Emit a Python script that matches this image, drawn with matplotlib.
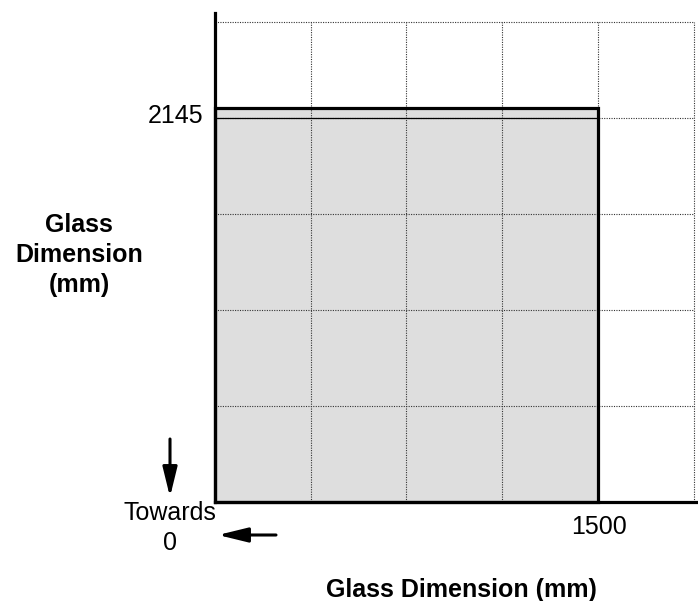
import matplotlib
matplotlib.use("Agg")
import matplotlib.pyplot as plt
from matplotlib.patches import Rectangle, FancyArrowPatch

plt.rcParams['font.family'] = ['Liberation Sans', 'DejaVu Sans']

# Data
glass_width = 1500      # mm (horizontal)
glass_height = 2145     # mm (vertical)
x_tick_labels = ["1500"]
y_tick_labels = ["2145"]
x_label = "Glass Dimension (mm)"
y_label = "Glass\nDimension\n(mm)"
towards_label = "Towards\n0"

W, H = 698, 601
fig = plt.figure(figsize=(W / 100, H / 100), dpi=100)
ax = fig.add_axes([215 / W, (H - 502) / H, (W - 215) / W, (502 - 13) / H])

x_max = 1892
y_max = 2662
ax.set_xlim(0, x_max)
ax.set_ylim(0, y_max)

# grid (equal spacing on screen)
x_grid = [375, 750, 1125, 1500, 1875]
y_grid = [523, 1045, 1568, 2091, 2613]
grid_kw = dict(color='#333333', lw=0.8, ls=(0, (1, 1.2)), zorder=1)
for gx in x_grid:
    ax.plot([gx, gx], [0, y_grid[-1]], **grid_kw)
for gy in y_grid:
    ax.plot([0, x_grid[-1]], [gy, gy], **grid_kw)

# glass pane
ax.add_patch(Rectangle((0, 0), glass_width, glass_height, facecolor='#dedede',
                       edgecolor='none', zorder=0.5))
ax.add_patch(Rectangle((0, 0), glass_width, glass_height, facecolor='none',
                       edgecolor='black', lw=2.3, zorder=3, clip_on=False))
ax.plot([0, glass_width], [y_grid[3], y_grid[3]], color='black', lw=0.9, zorder=2)

for s in ['top', 'right']:
    ax.spines[s].set_visible(False)
for s in ['left', 'bottom']:
    ax.spines[s].set_linewidth(2.3)
    ax.spines[s].set_zorder(4)
ax.set_xticks([])
ax.set_yticks([])

ax.annotate(y_tick_labels[0], xy=(0, glass_height), xytext=(-12, -8),
            textcoords='offset pixels', ha='right', va='center', fontsize=18)
ax.annotate(x_tick_labels[0], xy=(glass_width, 0), xytext=(1, -25),
            textcoords='offset pixels', ha='center', va='center', fontsize=18)

# labels
fig.text(79 / W, (H - 255) / H, y_label, ha='center', va='center',
         multialignment='center', fontsize=18, fontweight='bold', linespacing=1.3)
fig.text(461 / W, (H - 590) / H, x_label, ha='center', va='center',
         fontsize=18, fontweight='bold')
fig.text(170 / W, (H - 528) / H, towards_label, ha='center', va='center',
         multialignment='center', fontsize=18, linespacing=1.3)

# arrows
arrow_kw = dict(arrowstyle='-|>,head_length=0.9,head_width=0.22', lw=2.2,
                color='black', mutation_scale=20, shrinkA=0, shrinkB=0)
fig.add_artist(FancyArrowPatch((170, H - 439), (170, H - 497),
                               transform=None, **arrow_kw))
fig.add_artist(FancyArrowPatch((276, H - 535), (218, H - 535),
                               transform=None, **arrow_kw))

fig.savefig("out.png", dpi=100)
